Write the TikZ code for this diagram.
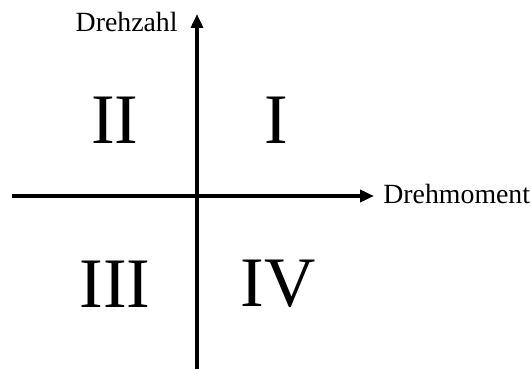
\documentclass[tikz,border=0pt]{standalone}
\usepackage{fontspec}
\setmainfont{Liberation Serif}
\usetikzlibrary{arrows.meta}
\begin{document}
\begin{tikzpicture}[
        x=0.5pt, y=-0.5pt,
        axis/.style={-{Triangle[length=7pt,width=6pt]}, line width=1.8pt, draw=black},
        quad/.style={font=\fontsize{35.5}{40}\selectfont, inner sep=0pt},
        lab/.style={font=\fontsize{13.9}{16}\selectfont, inner sep=0pt}
      ]
      \useasboundingbox (0,0) rectangle (531,369);
      \coordinate (xl) at (12,196);
      \coordinate (xr) at (374,196);
      \coordinate (yb) at (197,369);
      \coordinate (yt) at (197,14);
      \draw[axis] (xl) -- (xr);
      \draw[axis] (yb) -- (yt);
      \node[lab, anchor=base east] (nlab) at (178,32) {Drehzahl};
      \node[lab, anchor=base west] (mlab) at (383,204) {Drehmoment};
      \node[quad] (q1) at (276,120) {I};
      \node[quad] (q2) at (115,120) {II};
      \node[quad] (q3) at (115,284) {III};
      \node[quad] (q4) at (278,284) {IV};
    \end{tikzpicture}
\end{document}
